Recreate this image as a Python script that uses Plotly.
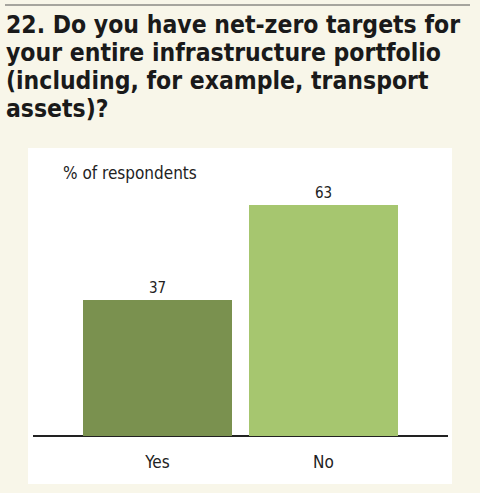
import plotly.graph_objects as go

categories = ["Yes", "No"]
values = [37, 63]
colors = ["#7a914f", "#a6c66f"]
title_lines = [
    "22. Do you have net-zero targets for",
    "your entire infrastructure portfolio",
    "(including, for example, transport",
    "assets)?",
]
axis_note = "% of respondents"

W, H = 480, 493
L, R, T, B = 33, 32, 150, 57
plot_w = W - L - R
plot_h = H - T - B

def px_x(px):
    return (px - L) / plot_w

def px_y(py):
    return (H - B - py) / plot_h

narrow = "DejaVu Sans Condensed, Liberation Sans Narrow, sans-serif"

fig = go.Figure()
fig.add_trace(go.Bar(
    x=[0, 1], y=values, marker=dict(color=colors, line=dict(width=0)),
    width=0.9, text=[str(v) for v in values], textposition="outside",
    textfont=dict(family=narrow, size=15, color="#222222"),
    cliponaxis=False, hoverinfo="skip",
))

shapes = [
    dict(type="rect", xref="paper", yref="paper",
         x0=px_x(28), x1=px_x(452), y0=px_y(484), y1=px_y(148),
         fillcolor="white", line=dict(width=0), layer="below"),
    dict(type="line", xref="paper", yref="paper",
         x0=px_x(5), x1=px_x(470), y0=px_y(5), y1=px_y(5),
         line=dict(color="#555555", width=1.2)),
]

annotations = []
for i, line in enumerate(title_lines):
    annotations.append(dict(
        text="<b>" + line + "</b>", xref="paper", yref="paper",
        x=px_x(4), y=px_y(41 + 28 * i), xanchor="left", yanchor="bottom",
        showarrow=False, font=dict(family=narrow, size=24.5, color="#1a1a1a"),
    ))
annotations.append(dict(
    text=axis_note, xref="paper", yref="paper", x=px_x(61), y=px_y(173),
    xanchor="left", yanchor="middle", showarrow=False,
    font=dict(family=narrow, size=17, color="#222222"),
))

fig.update_layout(
    width=W, height=H,
    margin=dict(l=L, r=R, t=T, b=B),
    paper_bgcolor="#f8f6e9", plot_bgcolor="white",
    showlegend=False, shapes=shapes, annotations=annotations,
    xaxis=dict(range=[-0.75, 1.75], tickmode="array", tickvals=[0, 1],
               ticktext=categories, showgrid=False, zeroline=False,
               showline=False, ticks="", ticklen=0, ticklabelstandoff=14,
               tickfont=dict(family=narrow, size=17, color="#222222")),
    yaxis=dict(range=[0, 78], showgrid=False, zeroline=True,
               zerolinecolor="#222222", zerolinewidth=1.5,
               showticklabels=False, showline=False),
    bargap=0,
)

fig.write_html("out.html", config={"displayModeBar": False},
               post_script="document.body.style.margin='0';document.body.style.background='#f8f6e9';")
